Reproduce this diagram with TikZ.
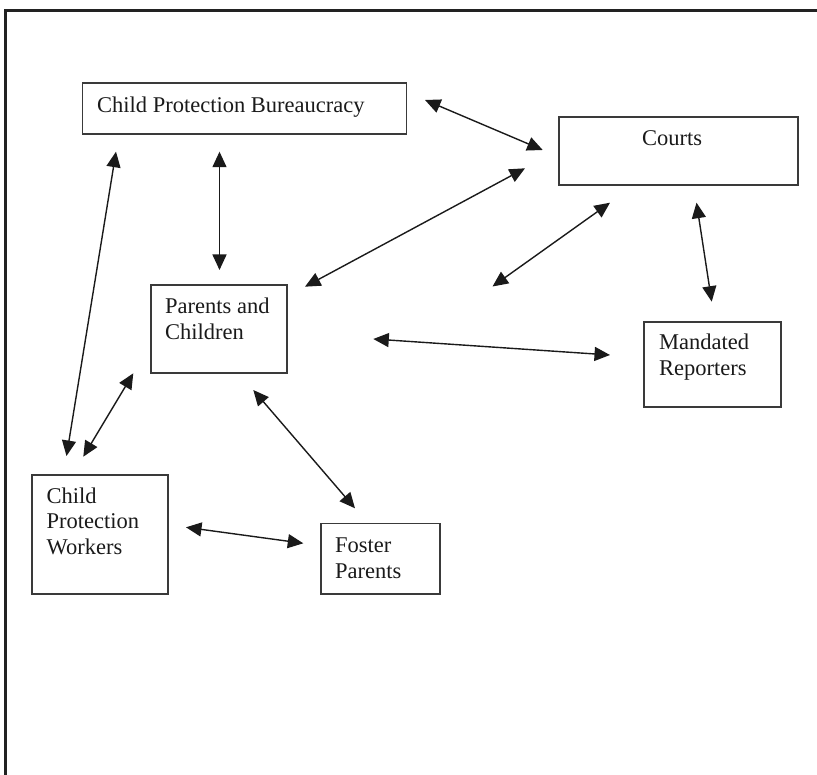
\documentclass[tikz,border=0pt]{standalone}
\usepackage{fontspec}
\setmainfont{Liberation Serif}
\usetikzlibrary{arrows.meta}
\definecolor{boxline}{HTML}{3A3A3A}
\definecolor{frameline}{HTML}{222222}
\definecolor{inkc}{HTML}{1A1A1A}
\tikzset{
  box/.style={draw=boxline, line width=1.3pt, rectangle, inner sep=0pt},
  txt/.style={anchor=base west, inner sep=0pt, text=inkc,
    font=\fontsize{22.5}{25.7}\selectfont},
  link/.style={draw=inkc, line width=1.4pt,
    {Triangle[length=15.5pt,width=14pt]}-{Triangle[length=15.5pt,width=14pt]}}
}
\begin{document}
\begin{tikzpicture}[x=1pt,y=-1pt]
\useasboundingbox (0,0) rectangle (817,775);
% outer frame (left and top edges visible)
\draw[frameline, line width=2.6pt] (5.5,775) -- (5.5,10.5) -- (817,10.5);

% boxes
\node[box, minimum width=324pt, minimum height=51pt] (cpb) at (244.5,108.5) {};
\node[box, minimum width=239pt, minimum height=68pt] (courts) at (678.5,151) {};
\node[box, minimum width=136pt, minimum height=88pt] (pc) at (219,329) {};
\node[box, minimum width=137pt, minimum height=85pt] (mr) at (712.5,364.5) {};
\node[box, minimum width=136pt, minimum height=119pt] (cpw) at (100,534.5) {};
\node[box, minimum width=119pt, minimum height=70.5pt] (fp) at (380.5,558.75) {};

% texts
\node[txt] (tcpb) at (97,112.7) {Child Protection Bureaucracy};
\node[txt] (tcourts) at (642,146) {Courts};
\node[txt] (tpc) at (165,314) {\parbox[t]{130pt}{\raggedright Parents and\\Children}};
\node[txt] (tmr) at (659,350) {\parbox[t]{130pt}{\raggedright Mandated\\Reporters}};
\node[txt] (tcpw) at (46.5,503.3) {\parbox[t]{130pt}{\raggedright Child\\Protection\\Workers}};
\node[txt] (tfp) at (335,552.3) {\parbox[t]{110pt}{\raggedright Foster\\Parents}};

% arrow end points
\coordinate (a1) at (425,100);   \coordinate (a2) at (542.7,150);
\coordinate (b1) at (219.5,151.7); \coordinate (b2) at (219.5,270);
\coordinate (c1) at (116,151.7); \coordinate (c2) at (66.5,456);
\coordinate (d1) at (525,168.3); \coordinate (d2) at (305,286.7);
\coordinate (e1) at (610,202.7); \coordinate (e2) at (492.5,286.5);
\coordinate (f1) at (696.5,202.7); \coordinate (f2) at (711.7,301.7);
\coordinate (g1) at (373.3,339); \coordinate (g2) at (610,355);
\coordinate (h1) at (133.3,373.3); \coordinate (h2) at (83.3,456.7);
\coordinate (i1) at (253.3,390); \coordinate (i2) at (355,508.3);
\coordinate (j1) at (186,527.3); \coordinate (j2) at (303.3,543.3);

% connectors
\draw[link] (a1) -- (a2);
\draw[link] (b1) -- (b2);
\draw[link] (c1) -- (c2);
\draw[link] (d1) -- (d2);
\draw[link] (e1) -- (e2);
\draw[link] (f1) -- (f2);
\draw[link] (g1) -- (g2);
\draw[link] (h1) -- (h2);
\draw[link] (i1) -- (i2);
\draw[link] (j1) -- (j2);
\end{tikzpicture}
\end{document}
